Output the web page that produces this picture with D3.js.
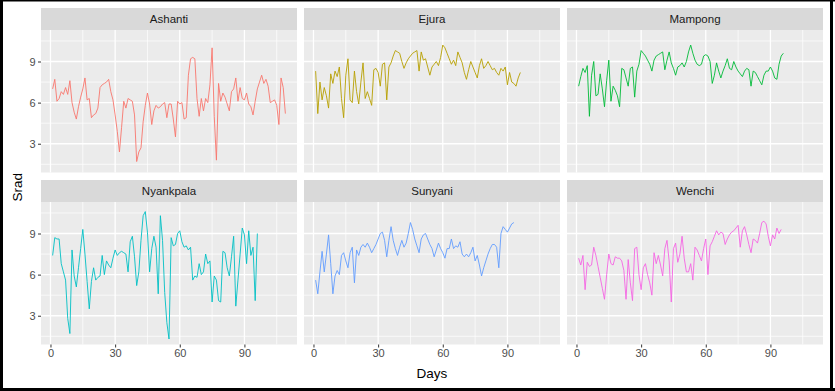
<!DOCTYPE html>
<html lang="en">
<head>
<meta charset="UTF-8"/>
<title>Srad by station</title>
<script src="https://d3js.org/d3.v7.min.js"></script>
<style>
  body { margin: 0; background: #fff; }
  text { font-family: "Liberation Sans", Arial, sans-serif; }
</style>
</head>
<body>
<div id="chart"></div>
<script>

// station names and ggplot hue colours
var stations = ["Ashanti", "Ejura", "Mampong", "Nyankpala", "Sunyani", "Wenchi"];
var colours = ["#F8766D", "#B79F00", "#00BA38", "#00BFC4", "#619CFF", "#F564E3"];

// daily Srad values, day 1 .. n
var ashanti = [7.0,7.7,6.1,6.3,6.8,6.6,7.1,6.6,7.6,6.0,5.3,4.8,5.7,6.4,7.0,7.8,6.2,6.3,4.9,5.1,
  5.2,5.6,7.1,7.3,7.4,7.5,7.7,6.8,6.2,5.1,3.9,2.4,4.2,6.1,5.6,6.3,6.2,6.1,5.1,1.7,
  2.4,2.7,4.6,5.8,6.7,5.9,4.4,5.4,5.8,5.6,5.7,5.9,6.0,4.9,5.9,5.9,4.8,3.5,6.1,5.9,
  6.0,4.8,4.9,8.0,9.2,9.3,9.2,6.3,5.0,6.3,5.4,6.3,6.0,7.3,10.0,5.0,1.8,7.4,6.1,6.7,
  6.4,5.9,5.4,6.8,7.0,7.8,6.1,7.1,6.3,6.2,6.7,5.9,5.7,5.1,6.1,7.0,7.5,8.0,7.4,7.7,
  7.2,6.0,6.1,6.2,5.8,4.4,7.8,7.1,5.2];
var ejura = [8.3,5.2,7.5,6.2,7.1,6.5,5.6,8.1,7.4,8.3,7.9,8.6,6.3,4.9,8.0,9.2,6.2,6.0,8.3,6.8,
  5.9,7.5,8.9,6.3,6.8,6.3,5.8,8.4,8.5,8.2,7.2,8.8,8.9,6.2,8.6,8.9,9.4,9.8,9.7,9.6,
  9.0,8.5,8.9,9.2,9.4,9.6,9.7,9.8,8.3,9.7,9.1,9.2,8.6,8.0,8.6,8.8,9.0,8.7,9.3,10.2,
  10.0,9.6,9.2,8.8,9.1,8.7,9.7,9.3,8.9,8.2,7.7,8.4,9.0,8.6,8.2,7.8,8.7,9.2,8.5,8.7,
  9.0,8.7,8.4,8.5,8.2,8.0,8.5,8.3,8.6,7.3,8.2,7.5,7.4,7.2,7.8,8.2];
var mampong = [7.2,7.9,8.5,8.2,8.7,5.0,8.0,9.0,6.5,6.6,8.1,7.0,5.7,7.6,9.1,6.1,7.2,6.9,6.5,5.7,
  8.5,8.4,7.8,7.2,8.5,8.6,6.4,8.3,8.8,9.8,9.6,9.4,9.1,8.8,8.3,9.1,9.4,9.5,9.6,9.7,
  8.4,9.1,9.7,8.9,8.5,8.0,8.6,8.7,8.9,8.6,9.0,9.7,10.2,9.6,9.1,8.8,8.7,8.8,9.4,9.5,
  9.4,9.0,7.4,8.0,8.9,8.3,7.8,8.3,8.7,9.2,8.5,8.4,9.0,8.6,8.3,8.1,7.9,8.3,8.5,8.4,
  7.2,8.3,8.2,7.9,7.6,7.3,8.0,8.3,8.3,8.6,8.3,7.8,7.7,8.8,9.4,9.6];
var nyankpala = [7.4,8.7,8.6,8.6,6.8,6.2,5.6,2.8,1.7,7.8,5.9,5.1,6.5,7.9,9.3,7.5,5.5,3.5,5.5,6.5,
  5.6,5.8,5.9,7.4,6.0,7.0,6.7,6.5,7.2,7.8,7.4,7.6,7.7,7.6,7.5,6.2,8.4,8.8,7.3,5.2,
  6.2,8.5,10.3,10.6,9.1,6.2,7.9,8.8,8.0,4.6,10.3,8.5,4.7,2.5,1.3,8.7,8.1,8.2,9.0,9.2,
  8.4,8.0,8.1,7.8,8.0,5.6,5.9,5.8,6.8,6.0,6.2,7.5,6.8,7.0,4.0,5.9,5.6,4.1,4.0,7.7,
  7.6,6.5,5.9,7.3,8.8,3.7,5.6,7.5,9.4,8.9,6.8,9.2,7.4,8.0,4.1,9.0];
var sunyani = [5.6,4.6,6.2,7.7,6.2,7.5,8.9,6.8,4.6,5.9,6.3,6.0,7.4,7.6,7.0,6.5,7.6,8.0,5.4,7.8,
  7.4,8.0,8.2,8.0,8.3,8.0,7.6,7.9,8.2,8.6,9.0,9.1,8.5,7.3,8.5,9.5,8.5,7.9,7.4,8.0,
  8.5,8.0,8.3,9.0,9.8,9.3,8.6,8.1,7.6,8.6,8.9,9.0,8.6,8.2,7.9,7.3,7.8,8.3,7.9,7.6,
  7.2,7.9,7.9,8.6,7.9,8.1,8.0,8.4,7.5,7.3,7.5,7.3,7.6,8.0,7.0,7.4,6.7,5.9,6.5,7.0,
  7.5,7.9,8.2,8.2,8.0,6.5,9.0,9.5,9.3,9.1,9.4,9.7,9.8];
var wenchi = [7.2,6.7,7.4,4.9,6.9,6.6,6.7,8.0,7.4,6.6,5.8,5.0,4.2,6.0,7.5,6.8,6.7,7.3,7.2,7.2,
  7.0,6.3,4.2,7.1,5.4,4.1,7.9,8.0,6.0,4.9,6.5,6.8,6.0,5.4,4.5,7.6,6.8,7.4,6.7,5.9,
  7.9,8.5,7.0,4.0,7.9,8.3,6.9,7.5,8.8,7.2,6.2,6.2,6.8,5.6,8.0,7.8,7.4,7.0,7.9,8.6,
  6.0,8.1,8.4,8.8,9.2,8.9,9.1,9.0,8.2,8.6,8.9,9.1,9.2,9.4,9.6,8.0,9.2,9.5,8.9,8.2,
  7.6,8.6,8.5,8.3,9.0,9.8,9.9,9.7,8.8,8.1,8.9,8.6,9.4,9.0,9.3];

var seriesValues = [ashanti, ejura, mampong, nyankpala, sunyani, wenchi];

// axis ticks
var xTicks = [0, 30, 60, 90];
var xMinor = [15, 45, 75, 105];
var yTicks = [3, 6, 9];
var yMinor = [1.5, 4.5, 7.5, 10.5];

// layout
var w = 835, h = 391;
var panelW = 256, panelH = 142.5, stripH = 22;
var colLeft = [41, 304, 567];
var rowTop = [8, 180];

var svg = d3.select("#chart")
    .append("svg")
    .attr("width", w)
    .attr("height", h);

svg.append("rect").attr("width", w).attr("height", h).attr("fill", "#fff");

// x scale: days, 5% expansion like ggplot
var maxDay = d3.max(seriesValues, function(s) { return s.length; });
var xPad = (maxDay - 1) * 0.05;
var xScale = d3.scaleLinear()
    .domain([1 - xPad, maxDay + xPad])
    .range([0, panelW]);

var yScale = d3.scaleLinear()
    .domain([0.9, 11.3])
    .range([panelH, 0]);

var line = d3.line()
    .x(function(d, i) { return xScale(i + 1); })
    .y(function(d) { return yScale(d); });

stations.forEach(function(name, k) {
    var col = k % 3, row = Math.floor(k / 3);
    var g = svg.append("g")
        .attr("transform", "translate(" + colLeft[col] + "," + rowTop[row] + ")");

    // strip
    g.append("rect")
        .attr("width", panelW)
        .attr("height", stripH)
        .attr("fill", "#D9D9D9");
    g.append("text")
        .attr("x", panelW / 2)
        .attr("y", stripH / 2 + 4)
        .attr("text-anchor", "middle")
        .attr("font-size", "11.5px")
        .attr("fill", "#1A1A1A")
        .text(name);

    var p = g.append("g").attr("transform", "translate(0," + stripH + ")");
    p.append("rect")
        .attr("width", panelW)
        .attr("height", panelH)
        .attr("fill", "#EBEBEB");

    // grid
    p.selectAll(".ymin").data(yMinor).enter().append("line")
        .attr("x1", 0).attr("x2", panelW)
        .attr("y1", yScale).attr("y2", yScale)
        .attr("stroke", "#fff").attr("stroke-width", 0.7);
    p.selectAll(".xmin").data(xMinor).enter().append("line")
        .attr("y1", 0).attr("y2", panelH)
        .attr("x1", xScale).attr("x2", xScale)
        .attr("stroke", "#fff").attr("stroke-width", 0.7);
    p.selectAll(".ymaj").data(yTicks).enter().append("line")
        .attr("x1", 0).attr("x2", panelW)
        .attr("y1", yScale).attr("y2", yScale)
        .attr("stroke", "#fff").attr("stroke-width", 1.3);
    p.selectAll(".xmaj").data(xTicks).enter().append("line")
        .attr("y1", 0).attr("y2", panelH)
        .attr("x1", xScale).attr("x2", xScale)
        .attr("stroke", "#fff").attr("stroke-width", 1.3);

    // the series
    p.append("path")
        .datum(seriesValues[k])
        .attr("d", line)
        .attr("fill", "none")
        .attr("stroke", colours[k])
        .attr("stroke-width", 0.9);

    // axes on outer panels
    if (col == 0) {
        var ya = p.append("g").call(d3.axisLeft(yScale).tickValues(yTicks).tickSize(3).tickPadding(2.5));
        styleAxis(ya);
    }
    if (row == 1) {
        var xa = p.append("g")
            .attr("transform", "translate(0," + panelH + ")")
            .call(d3.axisBottom(xScale).tickValues(xTicks).tickSize(3).tickPadding(2));
        styleAxis(xa);
    }
});

function styleAxis(a) {
    a.select(".domain").remove();
    a.selectAll(".tick line").attr("stroke", "#333333").attr("stroke-width", 1);
    a.selectAll(".tick text")
        .attr("fill", "#4D4D4D")
        .attr("font-size", "11px")
        .attr("font-family", "'Liberation Sans', Arial, sans-serif");
}

// axis titles
svg.append("text")
    .attr("x", (colLeft[0] + colLeft[2] + panelW) / 2)
    .attr("y", 378)
    .attr("text-anchor", "middle")
    .attr("font-size", "13.5px")
    .attr("fill", "#000")
    .text("Days");

svg.append("text")
    .attr("transform", "translate(22," + ((rowTop[0] + stripH + rowTop[1] + stripH + panelH) / 2) + ") rotate(-90)")
    .attr("text-anchor", "middle")
    .attr("font-size", "13.5px")
    .attr("fill", "#000")
    .text("Srad");

// black frame round the picture
svg.append("rect").attr("x", 0).attr("y", 0).attr("width", w).attr("height", 1.5).attr("fill", "#000");
svg.append("rect").attr("x", 0).attr("y", 0).attr("width", 3).attr("height", h).attr("fill", "#000");
svg.append("rect").attr("x", 0).attr("y", 388).attr("width", w).attr("height", 3).attr("fill", "#000");
svg.append("rect").attr("x", 830).attr("y", 0).attr("width", 3).attr("height", h).attr("fill", "#000");

</script>
</body>
</html>
